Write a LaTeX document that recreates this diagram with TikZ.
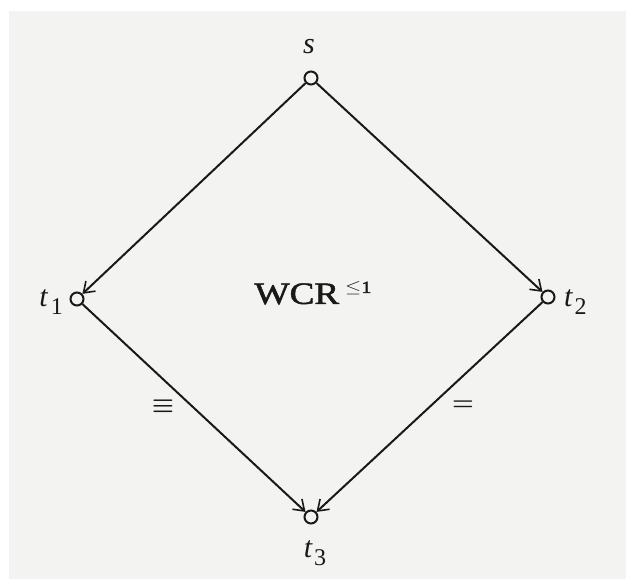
\documentclass[tikz,border=0pt]{standalone}
\usepackage{amsmath}
\usepackage{fontspec}
\setmainfont{Liberation Serif}
\usetikzlibrary{arrows.meta}
\definecolor{bg}{RGB}{243,243,241}
\definecolor{ink}{RGB}{25,25,25}
\begin{document}
\begin{tikzpicture}[x=1pt,y=-1pt,
  vtx/.style={circle,draw=ink,line width=2pt,minimum size=13pt,inner sep=0pt,fill=bg},
  conn/.style={draw=ink,line width=2pt,-{Straight Barb[length=10pt,width=14pt,line width=1.6pt]}},
  lbl/.style={text=ink,font=\fontsize{30}{30}\selectfont,inner sep=0pt}]
\fill[white] (0,0) rectangle (626,579);
\fill[bg] (9,11) rectangle (626,579);
\useasboundingbox (0,0) rectangle (626,579);
\node[vtx] (s) at (311,78) {};
\node[vtx] (t1) at (77,299) {};
\node[vtx] (t2) at (548,297) {};
\node[vtx] (t3) at (311,517) {};
\draw[conn] (s) -- (t1);
\draw[conn] (s) -- (t2);
\draw[conn] (t1) -- (t3);
\draw[conn] (t2) -- (t3);
\node[lbl] (ls) at (309,47) {\itshape s};
\node[lbl,anchor=east] (lt1) at (63,302) {\itshape t\hspace{3pt}\raisebox{-8pt}{\upshape\fontsize{24}{24}\selectfont 1}};
\node[lbl,anchor=west] (lt2) at (564,302) {\itshape t\hspace{2pt}\raisebox{-8pt}{\upshape\fontsize{24}{24}\selectfont 2}};
\node[lbl] (lt3) at (315,553) {\itshape t\hspace{2pt}\raisebox{-8pt}{\upshape\fontsize{24}{24}\selectfont 3}};
\node[lbl,xscale=1.2,font=\fontsize{31}{31}\selectfont\addfontfeatures{FakeBold=1.5}] (wcr) at (313,293) {WCR\hspace{5pt}\raisebox{11pt}{\fontsize{17}{17}\selectfont$\leq$1}};
\node[lbl] (e1) at (163,406) {$\boldsymbol{\equiv}$};
\node[lbl] (e2) at (463,406) {$\boldsymbol{=}$};
\end{tikzpicture}
\end{document}
